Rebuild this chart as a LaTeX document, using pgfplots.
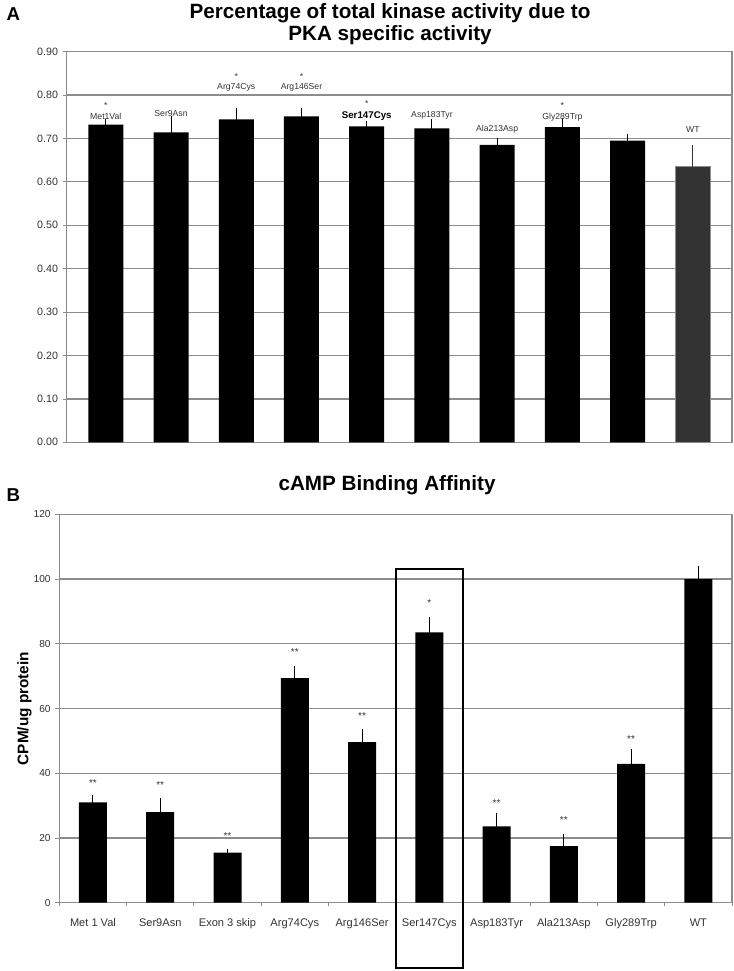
\documentclass[border=0pt]{standalone}
\usepackage{fontspec}
\setmainfont{Liberation Sans}
\usepackage{pgfplots}
\pgfplotsset{compat=1.18}
\usepackage{pgfplotstable}

\definecolor{gridgray}{HTML}{8C8C8C}
\definecolor{txtgray}{HTML}{333333}
\definecolor{wtgray}{HTML}{333333}

% panel A: fraction of kinase activity due to PKA
\pgfplotstableread{
x y err
0 0.732 0.007
1 0.714 0.032
2 0.744 0.021
3 0.751 0.014
4 0.728 0.005
5 0.723 0.016
6 0.685 0.010
7 0.726 0.015
8 0.695 0.010
}\pkamut
\pgfplotstableread{
x y err
9 0.635 0.043
}\pkawt

% panel B: cAMP binding
\pgfplotstableread{
x y err
0 31.0 1.5
1 28.0 3.5
2 15.5 0.4
3 69.4 2.9
4 49.6 3.4
5 83.5 4.1
6 23.6 3.4
7 17.5 3.0
8 42.9 3.7
9 100.0 3.2
}\camp

\pgfplotsset{
  chartbase/.style={
    scale only axis, anchor=south west, clip=false,
    axis line style={gridgray, line width=0.8pt},
    ymajorgrids, grid style={gridgray, line width=0.9pt},
    tick align=outside, tick pos=left,
    major tick length=3pt, minor tick length=2.5pt,
    tick style={gridgray, line width=0.6pt},
    tick label style={text=txtgray},
    /pgf/number format/assume math mode=true,
  },
  lbl/.style={draw=none, mark=none, forget plot, nodes near coords,
    point meta=explicit symbolic, nodes near coords align={center},
    nodes near coords style={anchor=center, inner sep=0pt, text=txtgray}},
}

\begin{document}
\begin{tikzpicture}
\useasboundingbox (0,0) rectangle (549.75pt,728.25pt);

\node[font=\bfseries\fontsize{14}{16}\selectfont, anchor=base west] at (1.5pt,712.5pt) {A};
\node[font=\bfseries\fontsize{15.5}{18}\selectfont, anchor=base] at (292.5pt,714pt) {Percentage of total kinase activity due to};
\node[font=\bfseries\fontsize{15.5}{18}\selectfont, anchor=base] at (292.5pt,697.5pt) {PKA specific activity};

\begin{axis}[chartbase,
  at={(50pt,396.5pt)}, width=499pt, height=293pt,
  xmin=-0.6, xmax=9.6, ymin=0, ymax=0.9,
  xtick=\empty,
  ytick={0,0.1,0.2,0.3,0.4,0.5,0.6,0.7,0.8,0.9},
  yticklabel style={font=\fontsize{8}{9}\selectfont,
    /pgf/number format/fixed, /pgf/number format/fixed zerofill,
    /pgf/number format/precision=2},
]
\addplot[ybar, bar width=26.25pt, bar shift=0pt, fill=black, draw=none,
  error bars/.cd, y dir=both, y explicit,
  error bar style={black, line width=0.75pt},
  error mark options={black, line width=0.75pt, mark size=2pt}]
  table[x=x, y=y, y error=err] {\pkamut};
\addplot[ybar, bar width=26.25pt, bar shift=0pt, fill=wtgray, draw=gridgray,
  error bars/.cd, y dir=both, y explicit,
  error bar style={wtgray, line width=0.75pt},
  error mark options={wtgray, line width=0.75pt, mark size=2pt}]
  table[x=x, y=y, y error=err] {\pkawt};

\addplot[lbl, nodes near coords style={font=\fontsize{6.5}{7}\selectfont}]
  table[x=x, y=y, meta=lab] {
x y lab
0 0.750 Met1Val
1 0.758 Ser9Asn
2 0.818 Arg74Cys
3 0.818 Arg146Ser
5 0.753 Asp183Tyr
6 0.721 Ala213Asp
7 0.749 Gly289Trp
9 0.721 WT
};
\addplot[lbl, nodes near coords style={font=\bfseries\fontsize{7.3}{8}\selectfont, text=black}]
  table[x=x, y=y, meta=lab] {
x y lab
4 0.751 Ser147Cys
};
\addplot[lbl, nodes near coords style={font=\fontsize{6.5}{7}\selectfont}]
  table[x=x, y=y, meta=lab] {
x y lab
0 0.777 *
2 0.842 *
3 0.842 *
4 0.781 *
7 0.777 *
};
\end{axis}

\node[font=\bfseries\fontsize{14}{16}\selectfont, anchor=base west] at (1.5pt,351.75pt) {B};
\node[font=\bfseries\fontsize{15.5}{18}\selectfont, anchor=base] at (290.25pt,360pt) {cAMP Binding Affinity};

\begin{axis}[chartbase,
  at={(44.5pt,51.2pt)}, width=504.5pt, height=291.3pt,
  xmin=-0.5, xmax=9.5, ymin=0, ymax=120,
  xtick={0,...,9},
  xticklabels={Met 1 Val, Ser9Asn, Exon 3 skip, Arg74Cys, Arg146Ser,
    Ser147Cys, Asp183Tyr, Ala213Asp, Gly289Trp, WT},
  major x tick style={draw=none},
  minor xtick={-0.5,0.5,...,9.5},
  ytick={0,20,...,120},
  yticklabel style={font=\fontsize{7.6}{9}\selectfont},
  xticklabel style={font=\fontsize{8.3}{10}\selectfont, yshift=-3pt,
    text height=1.6ex, text depth=0.3ex},
  ylabel={CPM/ug protein},
  ylabel style={font=\bfseries\fontsize{11.5}{13}\selectfont,
    at={(axis description cs:-0.052,0.5)}, anchor=center},
]
\addplot[ybar, bar width=21pt, bar shift=0pt, fill=black, draw=none,
  error bars/.cd, y dir=both, y explicit,
  error bar style={black, line width=0.75pt},
  error mark options={black, line width=0.75pt, mark size=2pt}]
  table[x=x, y=y, y error=err] {\camp};

\addplot[lbl, nodes near coords style={font=\fontsize{7.5}{8}\selectfont}]
  table[x=x, y=y, meta=lab] {
x y lab
0 37.0 **
1 36.5 **
2 20.5 **
3 77.4 **
4 57.7 **
5 92.7 *
6 30.8 **
7 25.5 **
8 50.6 **
};

\draw[black, line width=1.5pt] (axis cs:4.5,103) rectangle (axis cs:5.5,-20.2);
\end{axis}
\end{tikzpicture}
\end{document}
